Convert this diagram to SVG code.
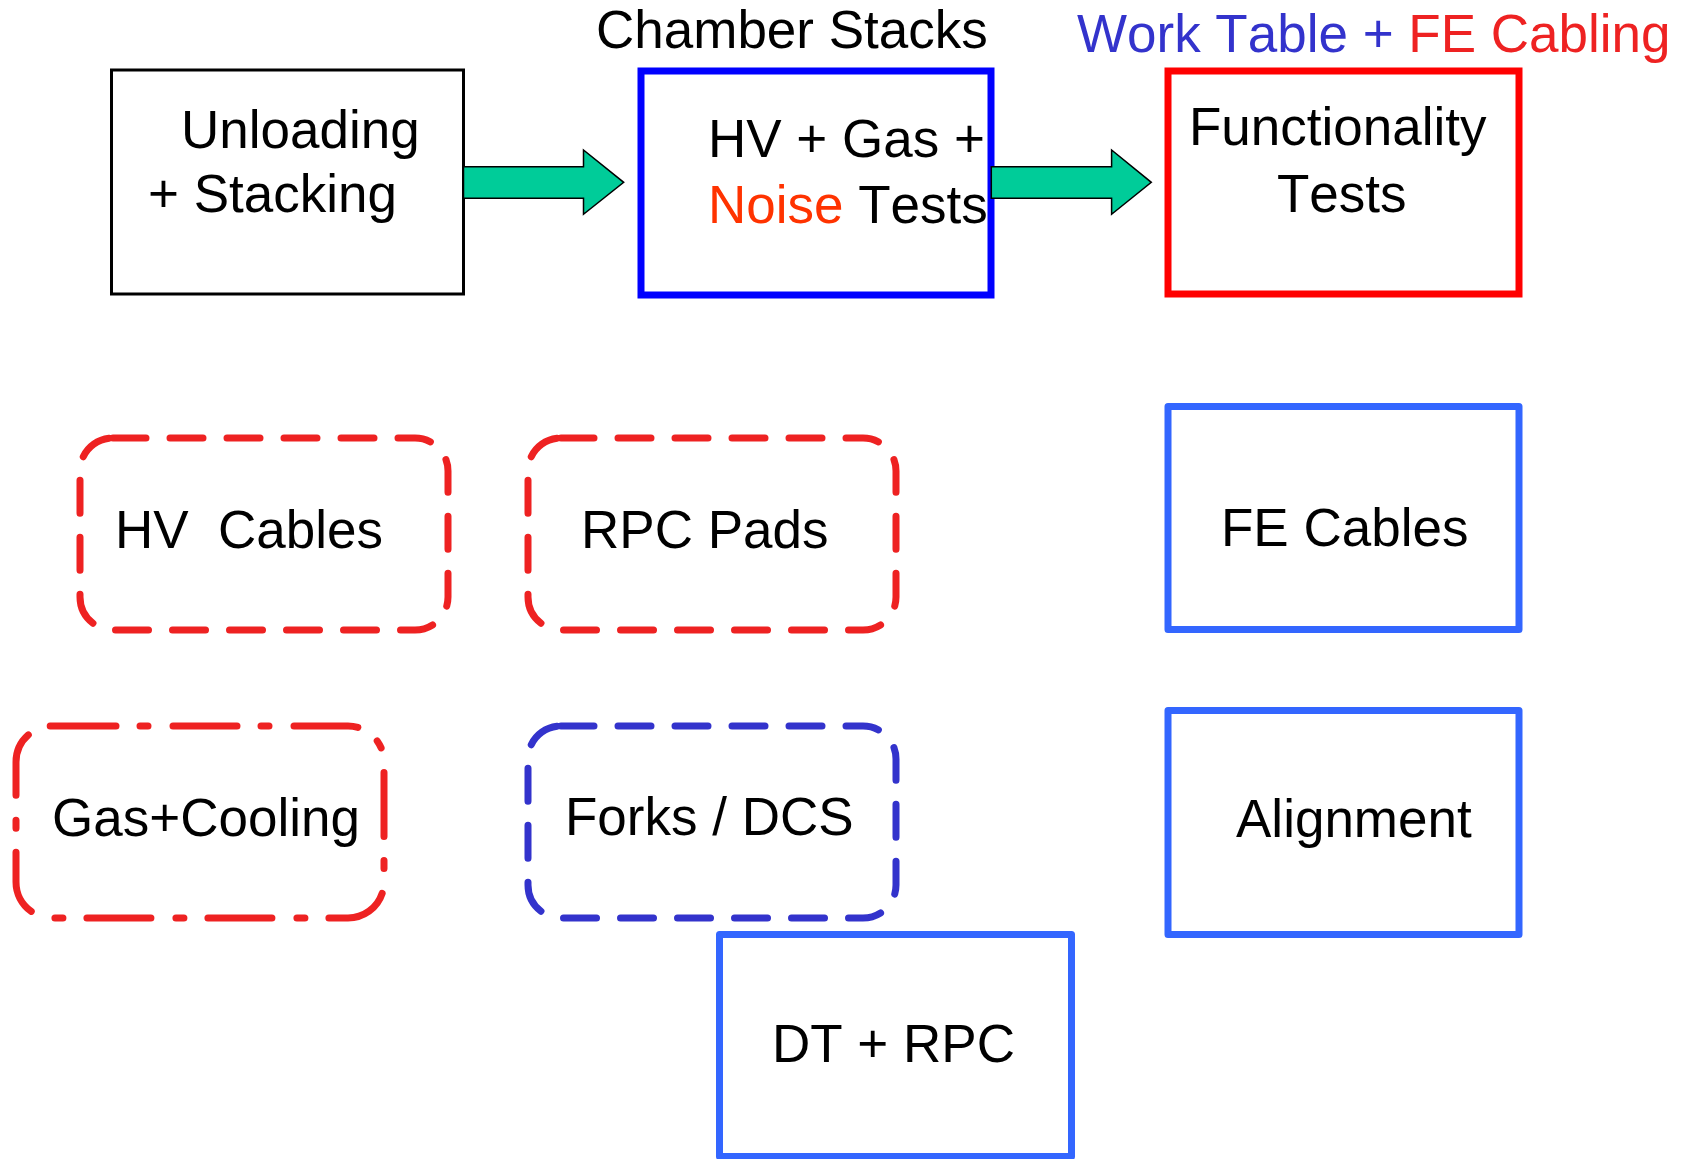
<svg xmlns="http://www.w3.org/2000/svg" width="1687" height="1159" viewBox="0 0 1687 1159">
<style>
text{font-family:"Liberation Sans",Arial,sans-serif;font-size:53px;fill:#000;font-kerning:none}
.solid{fill:none;stroke-linejoin:miter}
.dash{fill:none;stroke:#EE2222;stroke-width:7;stroke-linecap:round;stroke-dasharray:33 24}
.dashb{fill:none;stroke:#3333CC;stroke-width:7;stroke-linecap:round;stroke-dasharray:33 24}
.dashdot{fill:none;stroke:#EE2222;stroke-width:7;stroke-linecap:round;stroke-dasharray:64 24 8 25}
.lb{fill:none;stroke:#3366FF;stroke-width:7;stroke-linejoin:round}
.arrow{fill:#00CC99;stroke:#000;stroke-width:1.5}
</style>
<rect width="1687" height="1159" fill="#fff"/>
<g id="title-chamber"><text x="596" y="48">Chamber Stacks</text></g>
<g id="title-worktable"><text x="1077" y="52"><tspan fill="#3333CC">Work Table + </tspan><tspan fill="#EE2222">FE Cabling</tspan></text></g>
<g id="unloading">
<rect class="solid" x="111.5" y="70" width="352" height="224" stroke="#000" stroke-width="3"/>
<text x="181" y="148">Unloading</text>
<text x="148" y="212">+ Stacking</text>
</g>
<g id="hvgas">
<rect class="solid" x="641" y="71" width="350" height="224" stroke="#0000FF" stroke-width="7"/>
<text x="708" y="157">HV + Gas +</text>
<text x="708" y="223"><tspan fill="#FF3300">Noise</tspan> Tests</text>
</g>
<g id="functionality">
<rect class="solid" x="1168" y="71" width="351" height="223" stroke="#FF0000" stroke-width="7"/>
<text x="1189" y="145">Functionality</text>
<text x="1277" y="212">Tests</text>
</g>
<g id="connectors">
<polygon class="arrow" points="463.5,166.7 583.5,166.7 583.5,150 623.7,182.3 583.5,214.3 583.5,198.3 463.5,198.3"/>
<polygon class="arrow" points="991.3,166.7 1111.6,166.7 1111.6,150 1151.3,182.3 1111.6,214.3 1111.6,198.3 991.3,198.3"/>
</g>
<g id="hvcables">
<rect class="dash" x="80" y="438" width="368" height="192" rx="33" ry="33"/>
<text x="115" y="548" xml:space="preserve">HV  Cables</text>
</g>
<g id="rpcpads">
<rect class="dash" x="528" y="438" width="368" height="192" rx="33" ry="33"/>
<text x="581" y="548">RPC Pads</text>
</g>
<g id="fecables">
<rect class="lb" x="1168" y="406.5" width="351" height="223"/>
<text x="1221" y="546">FE Cables</text>
</g>
<g id="gascooling">
<rect class="dashdot" x="16" y="726" width="368" height="192" rx="36" ry="36"/>
<text x="52" y="836">Gas+Cooling</text>
</g>
<g id="forksdcs">
<rect class="dashb" x="528" y="726" width="368" height="192" rx="33" ry="33"/>
<text x="565" y="835">Forks / DCS</text>
</g>
<g id="alignment">
<rect class="lb" x="1168" y="710.5" width="351" height="224"/>
<text x="1236" y="837">Alignment</text>
</g>
<g id="dtrpc">
<rect class="lb" x="719.5" y="934.5" width="352" height="222"/>
<text x="772" y="1062">DT + RPC</text>
</g>
</svg>
